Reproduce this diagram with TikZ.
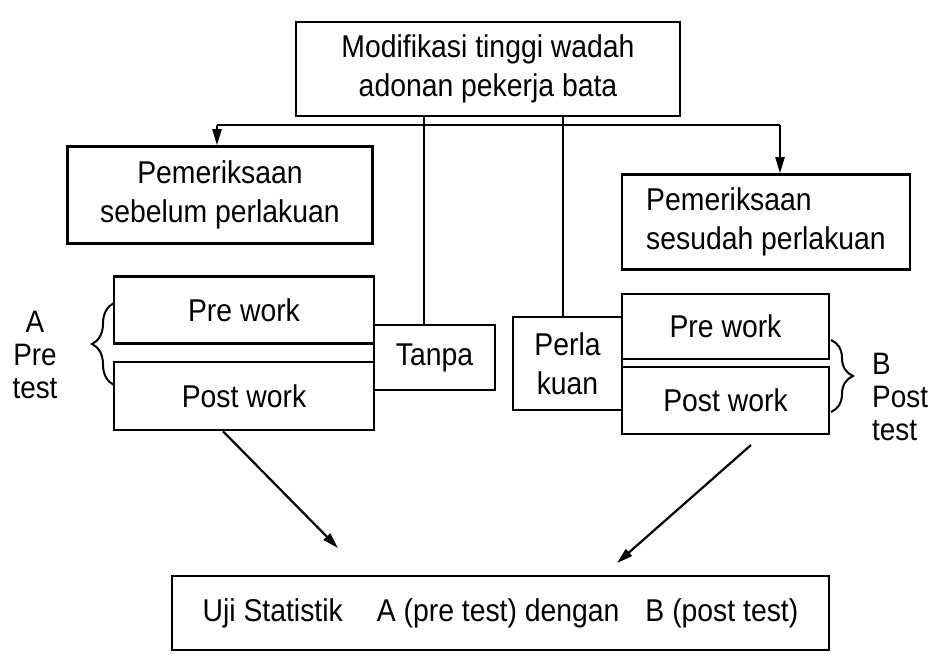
\documentclass[tikz,border=0pt]{standalone}
\usepackage{fontspec}
\setmainfont{Liberation Sans}[FakeStretch=0.9]
\usetikzlibrary{arrows.meta,decorations.pathreplacing}
\begin{document}
\begin{tikzpicture}[x=1pt,y=-1pt,
  box/.style={draw,line width=2.6pt,rectangle,inner sep=0pt,align=center,font=\fontsize{31.5}{39}\selectfont},
  lbl/.style={inner sep=0pt,font=\fontsize{31}{33}\selectfont},
  conn/.style={line width=2.2pt},
  arr/.style={conn,-{Triangle[length=16pt,width=9pt]}},
  brc/.style={line width=2pt,decorate,decoration={brace,amplitude=22pt}}]
\useasboundingbox (0,0) rectangle (928,662);
\fill[white] (0,0) rectangle (928,662);
% boxes
\node[box,minimum width=384pt,minimum height=94pt] (top) at (488,69) {Modifikasi tinggi wadah\\adonan pekerja bata};
\node[box,minimum width=305pt,minimum height=97pt] (sebelum) at (220,195) {Pemeriksaan\\sebelum perlakuan};
\node[box,align=left,minimum width=288pt,minimum height=95pt] (sesudah) at (766,222) {Pemeriksaan\\sesudah perlakuan};
\node[box,minimum width=260pt,minimum height=67pt] (lpre) at (244,310) {Pre work};
\node[box,minimum width=260pt,minimum height=68pt] (lpost) at (244,396) {Post work};
\node[box,minimum width=121pt,minimum height=65pt] (tanpa) at (434.5,357.5) {Tanpa};
\node[box,minimum width=109pt,minimum height=93pt] (perla) at (567.5,363.5) {Perla\\kuan};
\node[box,minimum width=207pt,minimum height=65pt] (rpre) at (725.5,326.5) {Pre work};
\node[box,minimum width=207pt,minimum height=67pt] (rpost) at (725.5,400.5) {Post work};
\node[box,minimum width=657pt,minimum height=74pt] (uji) at (500.5,613) {Uji Statistik\hspace{34pt}A (pre test) dengan\hspace{26pt}B (post test)};
% labels
\node[lbl,align=center] (alab) at (35,355) {A\\Pre\\test};
\node[lbl,align=left,anchor=west] (blab) at (872,397) {B\\Post\\test};
% braces
\draw[brc] (114,385) -- (114,303);
\draw[brc] (831,340) -- (831,412);
% bus from top box
\coordinate (bl) at (217,125);
\coordinate (br) at (780,125);
\draw[conn] (bl) -- (br);
\draw[arr] (bl) -- (bl |- sebelum.north);
\draw[arr] (br) -- (br |- sesudah.north);
% vertical lines
\draw[conn] (424,0 |- top.south) -- (424,0 |- tanpa.north);
\draw[conn] (563,0 |- top.south) -- (563,0 |- perla.north);
% arrows to statistics
\coordinate (la) at (338,548);
\coordinate (rs) at (751,445);
\coordinate (ra) at (617,563);
\draw[arr] (223,0 |- lpost.south) -- (la);
\draw[arr] (rs) -- (ra);
\end{tikzpicture}
\end{document}
